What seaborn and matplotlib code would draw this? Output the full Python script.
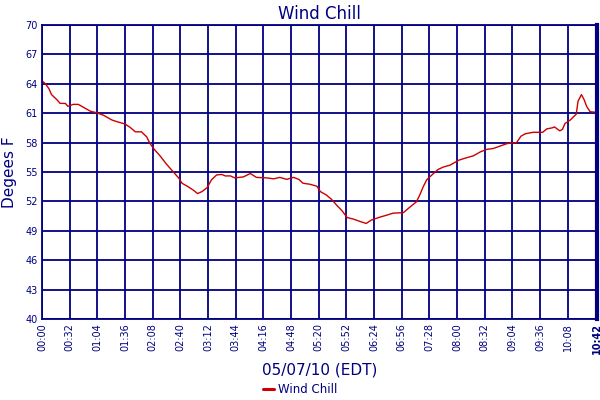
import pandas as pd
import seaborn as sns
import matplotlib.pyplot as plt

# minutes after midnight, 05/07/10
minutes = [0, 4, 8, 11, 17, 21, 27, 30, 36, 42, 48, 56, 63, 71, 81, 88, 96, 102,
           108, 115, 121, 125, 130, 137, 144, 152, 158, 162, 169, 175, 180, 185,
           191, 196, 202, 208, 212, 218, 223, 233, 241, 248, 260, 268, 275, 283,
           291, 297, 302, 310, 318, 322, 329, 335, 341, 347, 353, 360, 368, 375,
           381, 391, 399, 406, 418, 426, 433, 437, 441, 445, 451, 458, 464, 472,
           482, 489, 499, 507, 514, 522, 530, 538, 549, 554, 559, 568, 579, 584,
           590, 593, 595, 599, 602, 605, 611, 615, 618, 620, 624, 627, 630, 634,
           640, 642]
wind_chill = [64.3, 64.0, 63.5, 62.9, 62.4, 62.0, 62.0, 61.7, 61.9, 61.9, 61.6, 61.2,
              61.05, 60.8, 60.3, 60.1, 59.9, 59.55, 59.1, 59.1, 58.6, 57.9, 57.3,
              56.6, 55.8, 55.0, 54.4, 53.85, 53.5, 53.15, 52.8, 53.0, 53.4, 54.2,
              54.7, 54.75, 54.6, 54.6, 54.4, 54.5, 54.85, 54.45, 54.4, 54.3, 54.45,
              54.25, 54.45, 54.25, 53.85, 53.75, 53.55, 53.0, 52.65, 52.2, 51.6,
              51.05, 50.35, 50.2, 49.95, 49.75, 50.1, 50.4, 50.6, 50.8, 50.85, 51.45,
              51.95, 52.65, 53.5, 54.2, 54.7, 55.25, 55.5, 55.7, 56.2, 56.4, 56.65,
              57.05, 57.3, 57.4, 57.65, 57.9, 58.0, 58.65, 58.9, 59.05, 59.05, 59.4,
              59.5, 59.6, 59.45, 59.2, 59.35, 59.95, 60.3, 60.65, 60.9, 62.2, 62.9,
              62.4, 61.7, 61.15, 61.1, 61.25]

tick_minutes = list(range(0, 609, 32)) + [642]
tick_labels = ['00:00', '00:32', '01:04', '01:36', '02:08', '02:40', '03:12', '03:44',
               '04:16', '04:48', '05:20', '05:52', '06:24', '06:56', '07:28', '08:00',
               '08:32', '09:04', '09:36', '10:08', '10:42']
y_ticks = list(range(40, 71, 3))

navy = '#000080'
df = pd.DataFrame({'minute': minutes, 'Wind Chill': wind_chill})

sns.set_style('white')
fig = plt.figure(figsize=(6, 4), dpi=100)
ax = fig.add_axes([0.07, 0.2025, 0.925, 0.735])
sns.lineplot(data=df, x='minute', y='Wind Chill', color='#cc0000', linewidth=1.0,
             label='Wind Chill', ax=ax)

ax.set_xlim(0, 642)
ax.set_ylim(40, 70)
ax.set_xticks(tick_minutes)
ax.set_xticklabels(tick_labels, rotation=90, fontsize=7, color=navy)
ax.get_xticklabels()[-1].set_fontweight('bold')
ax.set_yticks(y_ticks)
ax.set_yticklabels([str(v) for v in y_ticks], fontsize=7, color=navy)
ax.tick_params(length=0, pad=3)
ax.grid(True, color=navy, linewidth=1.3)
for side, sp in ax.spines.items():
    sp.set_color(navy)
    sp.set_linewidth(1.3)
ax.spines['right'].set_linewidth(3)

ax.set_title('Wind Chill', color=navy, fontsize=12, pad=4)
ax.set_ylabel('Degees F', color=navy, fontsize=11, labelpad=6)
ax.set_xlabel('05/07/10 (EDT)', color=navy, fontsize=11, labelpad=6)
leg = ax.legend(loc='center', bbox_to_anchor=(0.5, 0.026), bbox_transform=fig.transFigure,
                frameon=False, fontsize=8.5, handlelength=1.0, handletextpad=0.3,
                borderpad=0)
for t in leg.get_texts():
    t.set_color(navy)
for h in leg.get_lines():
    h.set_linewidth(2.2)

fig.savefig('out.png', dpi=100)
